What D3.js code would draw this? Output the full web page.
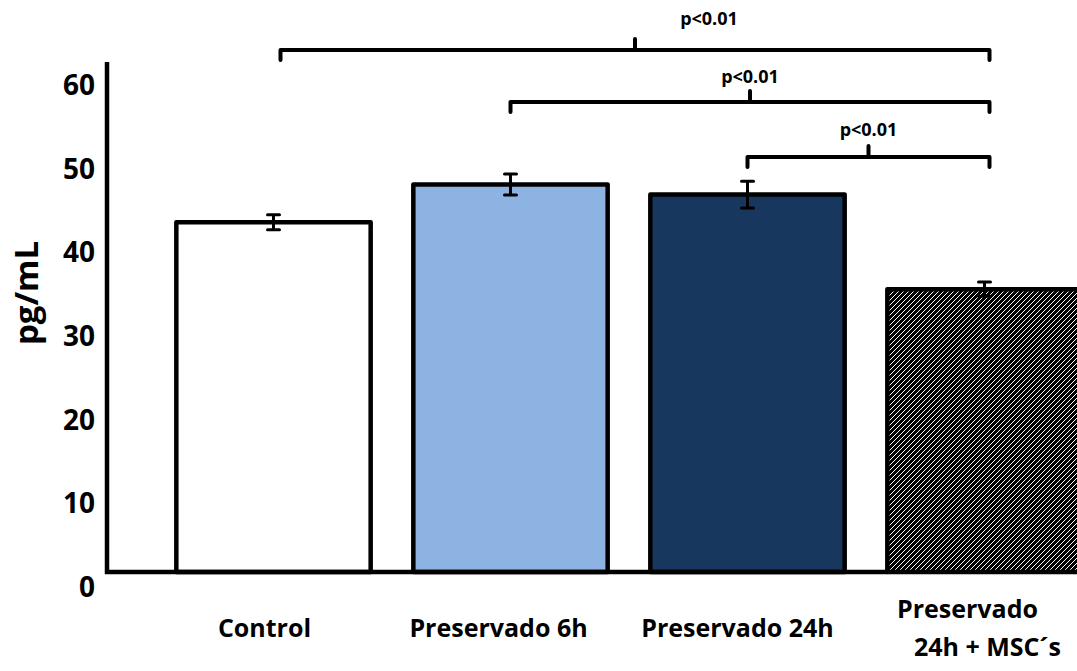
<!DOCTYPE html>
<html>
<head>
<meta charset="utf-8">
<script src="https://cdn.jsdelivr.net/npm/d3@7"></script>
<style>
  body { margin: 0; background: #fff; }
  text { font-family: "Open Sans", Lato, sans-serif; font-weight: bold; fill: #000; }
</style>
</head>
<body>
<div id="chart"></div>
<script>
// datos
const categories = ["Control", "Preservado 6h", "Preservado 24h", "Preservado\n 24h + MSC´s"];
const means = [43.6, 48.1, 46.9, 35.6];
const errors = [0.9, 1.25, 1.6, 0.85];
const fills = ["#ffffff", "#8DB3E2", "#17375E", "url(#hatch)"];
const yTicks = [0, 10, 20, 30, 40, 50, 60];
// pares comparados y su etiqueta
const sigFrom = [0, 1, 2];
const sigTo = [3, 3, 3];
const sigLabels = ["p<0.01", "p<0.01", "p<0.01"];

const width = 1077, height = 671;

const svg = d3.select("#chart").append("svg")
    .attr("width", width)
    .attr("height", height);

const defs = svg.append("defs");
const pat = defs.append("pattern")
    .attr("id", "hatch")
    .attr("patternUnits", "userSpaceOnUse")
    .attr("width", 5).attr("height", 5);
pat.append("rect").attr("width", 5).attr("height", 5).attr("fill", "#000");
pat.append("path")
    .attr("d", "M-1,1 l2,-2 M0,5 l5,-5 M4,6 l2,-2")
    .attr("stroke", "#fff").attr("stroke-width", 1);

const x = d3.scaleBand()
    .domain(categories)
    .range([155, 1103])
    .paddingInner(0.18)
    .paddingOuter(0.09);

const y = d3.scaleLinear()
    .domain([0, 60])
    .range([587, 85]);

// el eje se dibuja algo por encima de la etiqueta 0
const base = y(0) - 15;

// barras
svg.selectAll(".bar")
    .data(means)
    .enter().append("rect")
    .attr("class", "bar")
    .attr("x", (d, i) => x(categories[i]))
    .attr("y", d => y(d))
    .attr("width", x.bandwidth())
    .attr("height", d => base - y(d))
    .attr("fill", (d, i) => fills[i])
    .attr("stroke", "#000")
    .attr("stroke-width", 4.5)
    .attr("stroke-linejoin", "round");

// barras de error
const eb = svg.append("g").attr("stroke", "#000").attr("stroke-width", 3);
means.forEach((m, i) => {
    const cx = x(categories[i]) + x.bandwidth() / 2;
    eb.append("line").attr("x1", cx).attr("x2", cx)
        .attr("y1", y(m + errors[i])).attr("y2", y(m - errors[i]));
    [m + errors[i], m - errors[i]].forEach(v => {
        eb.append("line").attr("x1", cx - 6).attr("x2", cx + 6)
            .attr("y1", y(v)).attr("y2", y(v))
            .attr("stroke-linecap", "round");
    });
});

// ejes
svg.append("line")
    .attr("x1", 107).attr("x2", 107)
    .attr("y1", 62).attr("y2", base + 2)
    .attr("stroke", "#000").attr("stroke-width", 4.5);
svg.append("line")
    .attr("x1", 105).attr("x2", x(categories[3]))
    .attr("y1", base).attr("y2", base)
    .attr("stroke", "#000").attr("stroke-width", 4.5);

svg.append("g")
    .selectAll("text")
    .data(yTicks)
    .enter().append("text")
    .attr("x", 95)
    .attr("y", d => y(d))
    .attr("dy", "0.36em")
    .attr("text-anchor", "end")
    .style("font-size", "28px")
    .text(d => d);

svg.append("text")
    .attr("transform", "translate(38,293) rotate(-90)")
    .attr("text-anchor", "middle")
    .style("font-size", "33px")
    .text("pg/mL");

// etiquetas de categorías (un poco corridas a la izquierda como en el original)
const labelShift = [-9, -12, -10];
categories.forEach((c, i) => {
    const lines = c.split("\n");
    const cx = x(c) + x.bandwidth() / 2;
    const t = svg.append("text")
        .attr("text-anchor", "middle")
        .style("font-size", "25px");
    if (lines.length === 1) {
        t.attr("x", cx + labelShift[i]).attr("y", 637).text(c);
    } else {
        t.append("tspan").attr("x", cx - 17).attr("y", 618).text(lines[0]);
        t.append("tspan").attr("x", cx + 3).attr("y", 656).text(lines[1].trim());
    }
});

// corchetes de significancia
const bracketY = [50, 102, 157];
const labelBase = [25, 83, 136];
const labelDx = [74, 0, 0];
sigFrom.forEach((a, k) => {
    const x1 = x(categories[a]) + x.bandwidth() / 2 + (a === 0 ? 7 : 0);
    const x2 = x(categories[sigTo[k]]) + x.bandwidth() / 2 + 5;
    const by = bracketY[k];
    const mid = (x1 + x2) / 2;
    svg.append("path")
        .attr("d", `M${x1},${by + 10} V${by} H${x2} V${by + 10} M${mid},${by} V${by - 11}`)
        .attr("fill", "none")
        .attr("stroke", "#000")
        .attr("stroke-width", 4)
        .attr("stroke-linejoin", "round")
        .attr("stroke-linecap", "round");
    svg.append("text")
        .attr("x", mid + labelDx[k])
        .attr("y", labelBase[k])
        .attr("text-anchor", "middle")
        .style("font-size", "18px")
        .text(sigLabels[k]);
});
</script>
</body>
</html>
